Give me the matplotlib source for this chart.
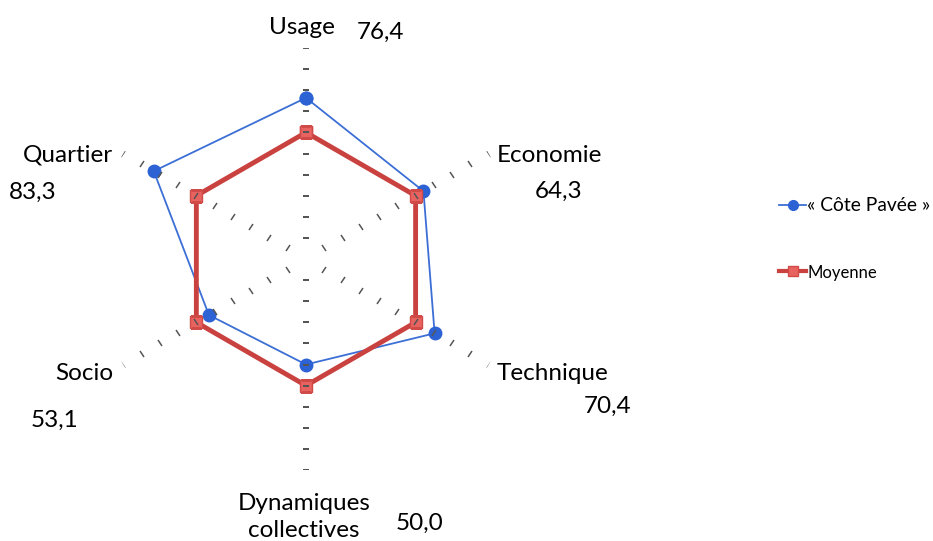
import numpy as np
import matplotlib.pyplot as plt
from matplotlib.lines import Line2D
from matplotlib.markers import MarkerStyle
from matplotlib.transforms import Affine2D

plt.rcParams['font.family'] = ['Lato', 'DejaVu Sans']

########### data ###########
categories = ['Usage', 'Economie', 'Technique', 'Dynamiques\ncollectives', 'Socio', 'Quartier']
value_labels = ['76,4', '64,3', '70,4', '50,0', '53,1', '83,3']
cote_pavee = [76.4, 64.3, 70.4, 50.0, 53.1, 83.3]
moyenne = [60, 60, 60, 60, 60, 60]
r_ticks = [10, 20, 30, 40, 50, 60, 70, 80, 90, 100]

n = len(categories)
theta = np.arange(n) * 2 * np.pi / n

fig = plt.figure(figsize=(9.33, 5.41), dpi=100)
ax = fig.add_axes([0.1018, 0.1312, 0.4523, 0.78], projection='polar')
ax.set_theta_offset(np.pi / 2)
ax.set_theta_direction(-1)
ax.set_ylim(0, 100)
ax.grid(False)
ax.set_xticks([])
ax.set_yticks([])
ax.spines['polar'].set_visible(False)
ax.patch.set_alpha(0)

# closed polygons
th_c = np.append(theta, theta[0])
line1, = ax.plot(th_c, np.append(cote_pavee, cote_pavee[0]), color='#3c6fd6', lw=1.3,
                 marker='o', ms=9, mfc='#2d62d4', mec='#2d62d4', zorder=3)
line2, = ax.plot(th_c, np.append(moyenne, moyenne[0]), color='#c9423f', lw=3.5,
                 marker='s', ms=9, mfc='#e8625f', mec='#d04a47', zorder=4)

# dotted spokes: small tick marks perpendicular to each spoke
for k in range(n):
    mk = MarkerStyle('_', transform=Affine2D().rotate_deg(-np.degrees(theta[k])))
    ax.plot([theta[k]] * len(r_ticks), r_ticks, ls='none', marker=mk,
            ms=4.5, mew=1.1, color='#555555', zorder=5)

# category labels and values
lab_pos = [(302, 27, 'center'), (497, 155, 'left'), (497, 373, 'left'),
           (304, 517, 'center'), (113, 373, 'right'), (113, 155, 'right')]
val_pos = [(380, 32), (559, 191), (608, 406), (420, 523), (55, 420), (33, 192)]
for k in range(n):
    x, y, ha = lab_pos[k]
    fig.text(x / 933, 1 - y / 541, categories[k], ha=ha, va='center', fontsize=17.5,
             linespacing=1.35)
    vx, vy = val_pos[k]
    fig.text(vx / 933, 1 - vy / 541, value_labels[k], ha='center', va='center', fontsize=17.5)

# legend
h1 = Line2D([], [], color='#3c6fd6', lw=1.3, marker='o', ms=7, mfc='#2d62d4', mec='#2d62d4')
h2 = Line2D([], [], color='#c9423f', lw=3, marker='s', ms=7, mfc='#e8625f', mec='#d04a47')
leg = fig.legend([h1, h2], ['« Côte Pavée »', 'Moyenne'], loc='upper left',
                 bbox_to_anchor=(762 / 933, 1 - 180 / 541), frameon=False,
                 handlelength=1.4, handletextpad=0.05, labelspacing=2.6, fontsize=13.9)
leg.get_texts()[1].set_fontsize(12.0)

fig.savefig('out.png', dpi=100)
